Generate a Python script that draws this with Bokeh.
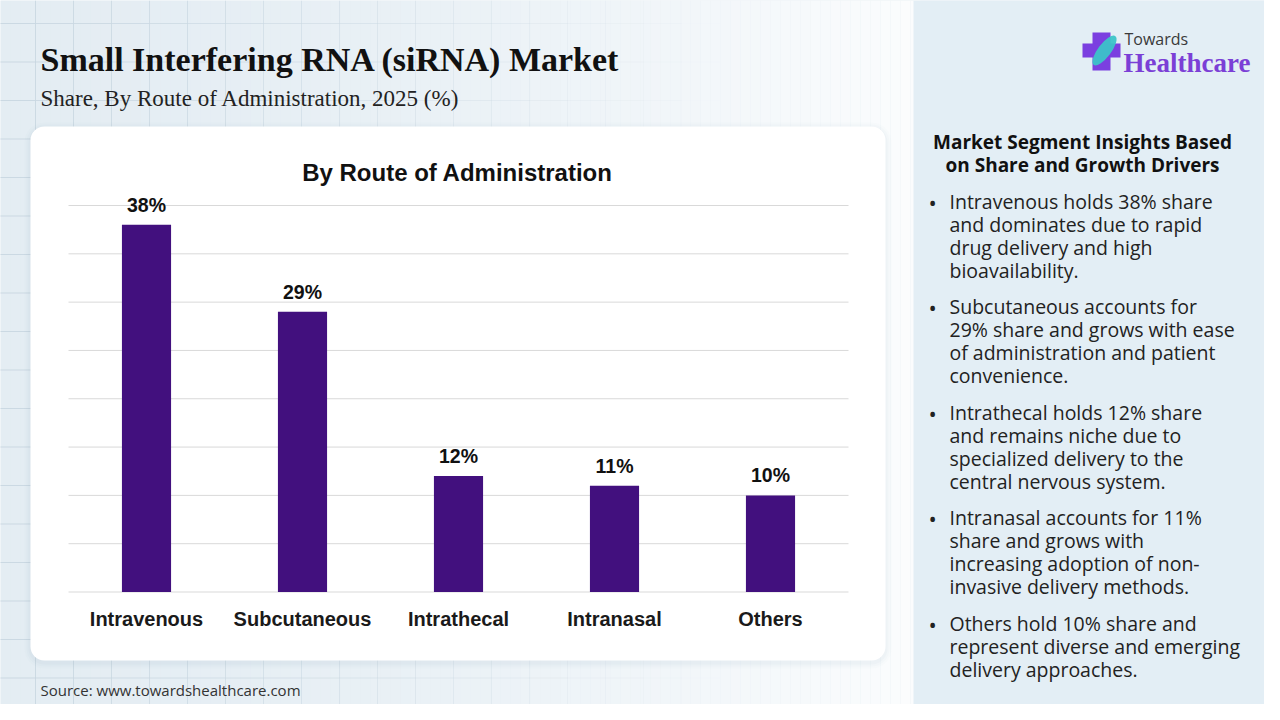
from bokeh.plotting import figure
from bokeh.models import Range1d, BoxAnnotation
from bokeh.core.properties import value
from bokeh.embed import file_html
from bokeh.resources import INLINE

# ---------------- data ----------------
categories = ["Intravenous", "Subcutaneous", "Intrathecal", "Intranasal", "Others"]
shares = [38, 29, 12, 11, 10]
share_labels = ["38%", "29%", "12%", "11%", "10%"]
grid_values = [0, 5, 10, 15, 20, 25, 30, 35, 40]

title = "Small Interfering RNA (siRNA) Market"
subtitle = "Share, By Route of Administration, 2025 (%)"
chart_title = "By Route of Administration"
source = "Source: www.towardshealthcare.com"
panel_heading = ["Market Segment Insights Based", "on Share and Growth Drivers"]
panel_bullets = [
    ["Intravenous holds 38% share", "and dominates due to rapid", "drug delivery and high", "bioavailability."],
    ["Subcutaneous accounts for", "29% share and grows with ease", "of administration and patient", "convenience."],
    ["Intrathecal holds 12% share", "and remains niche due to", "specialized delivery to the", "central nervous system."],
    ["Intranasal accounts for 11%", "share and grows with", "increasing adoption of non-", "invasive delivery methods."],
    ["Others hold 10% share and", "represent diverse and emerging", "delivery approaches."],
]

# ---------------- layout (pixels) ----------------
W, H = 1264, 704
PX0, PY0 = 0, 0
PLOT_L, PLOT_R = 68, 848          # category span
ZERO_Y, TOP_Y = 591.5, 205        # y of value 0 and of value 40
YMAX = 40

p = figure(width=W, height=H, x_range=Range1d(PX0, PX0 + W), y_range=Range1d(PY0 + H, PY0),
           output_backend="svg", toolbar_location=None, min_border=0)
p.axis.visible = False
p.grid.visible = False
p.outline_line_color = None
p.background_fill_color = "#e1ebf2"
p.border_fill_color = "#e1ebf2"

# extra ranges for the bar chart, derived from layout
n = len(categories)
unit_x = (PLOT_R - PLOT_L) / n
xs0 = -0.5 - (PLOT_L - PX0) / unit_x
p.extra_x_ranges = {"cx": Range1d(xs0, xs0 + W / unit_x)}
unit_y = (ZERO_Y - TOP_Y) / YMAX
ys0 = -((PY0 + H) - ZERO_Y) / unit_y
p.extra_y_ranges = {"cy": Range1d(ys0, ys0 + H / unit_y)}

# ---------------- background ----------------
step = 10
lefts, rights, alphas = [], [], []
for i in range(0, 915, step):
    lefts.append(i); rights.append(i + step)
    a = 0.12 + 0.75 * (i / 915) ** 1.8
    alphas.append(min(a, 0.85))
p.quad(left=lefts, right=rights, top=[0] * len(lefts), bottom=[720] * len(lefts),
       fill_color="white", fill_alpha=alphas, line_color=None, level="image")

gx0, gx1, gy0_, gy1_, ga = [], [], [], [], []
for k in range(0, 24):
    x = 35 + 38 * k
    if x > 900:
        break
    a = max(0.0, 0.95 - x / 750)
    gx0.append(x); gx1.append(x); gy0_.append(0); gy1_.append(720); ga.append(a)
for j in range(0, 19):
    y = 23 + 38.5 * j
    for k in range(0, 24):
        xa = 38 * k - 3
        if xa > 900:
            break
        a = max(0.0, 0.95 - (xa + 19) / 750)
        gx0.append(xa); gx1.append(xa + 38); gy0_.append(y); gy1_.append(y); ga.append(a)
p.segment(x0=gx0, y0=gy0_, x1=gx1, y1=gy1_, line_color="#c9d7e1", line_alpha=ga,
          line_width=1, level="image")

p.quad(left=[913], right=[1280], top=[0], bottom=[720], fill_color="#e3eef5",
       line_color=None, level="image")

for off, al in [(6, 0.025), (4, 0.03), (2, 0.04)]:
    p.add_layout(BoxAnnotation(left=30 - off, right=885 + off, top=126 - off + 2, bottom=660 + off + 2,
                               fill_color="#8aa0b0", fill_alpha=al, line_color=None,
                               border_radius=14 + off, level="underlay"))
p.add_layout(BoxAnnotation(left=30, right=885, top=126, bottom=660, fill_color="white",
                           fill_alpha=1.0, line_color=None, border_radius=14, level="underlay"))

# ---------------- titles ----------------
p.text(x=[40], y=[59], text=[title], text_font=value("Liberation Serif"), text_font_style="bold",
       text_font_size="34px", text_color="#111111", text_baseline="middle", text_align="left")
p.text(x=[40], y=[98], text=[subtitle], text_font=value("Liberation Serif"),
       text_font_size="23px", text_color="#222222", text_baseline="middle", text_align="left")
p.text(x=[40], y=[689], text=[source], text_font=value("Open Sans"),
       text_font_size="15px", text_color="#333333", text_baseline="middle", text_align="left")

# logo
p.quad(left=[1092], right=[1110], top=[32], bottom=[70], fill_color="#7b3fe0", line_color=None)
p.quad(left=[1082], right=[1120], top=[43], bottom=[57], fill_color="#7b3fe0", line_color=None)
p.ellipse(x=[1104], y=[50], width=[13], height=[36], angle=[-0.65], fill_color="#3cc3c8",
          line_color=None, fill_alpha=0.95)
p.text(x=[1124], y=[38], text=["Towards"], text_font=value("Open Sans"), text_font_size="16px",
       text_color="#3a3a3a", text_baseline="middle")
p.text(x=[1123], y=[62], text=["Healthcare"], text_font=value("Liberation Serif"),
       text_font_style="bold", text_font_size="27px", text_color="#7b3fd6", text_baseline="middle")

# ---------------- bar chart ----------------
idx = list(range(n))
p.text(x=[457], y=[172], text=[chart_title], text_font=value("Liberation Sans"), text_font_style="bold",
       text_font_size="24px", text_color="#111111", text_align="center", text_baseline="middle")
p.segment(x0=[-0.5] * len(grid_values), x1=[n - 0.5] * len(grid_values), y0=grid_values, y1=grid_values,
          line_color="#d9d9d9", line_width=1, x_range_name="cx", y_range_name="cy")
p.vbar(x=idx, top=shares, width=0.315, bottom=0, fill_color="#42107e", line_color=None,
       x_range_name="cx", y_range_name="cy")
p.text(x=idx, y=shares, text=share_labels, text_font=value("Liberation Sans"), text_font_style="bold",
       text_font_size="19.5px", text_color="#111111", text_align="center", text_baseline="bottom",
       y_offset=-9, x_range_name="cx", y_range_name="cy")
p.text(x=idx, y=[0] * n, text=categories, text_font=value("Liberation Sans"), text_font_style="bold",
       text_font_size="20px", text_color="#1a1a1a", text_align="center", text_baseline="middle",
       y_offset=27, x_range_name="cx", y_range_name="cy")

# ---------------- right panel text ----------------
p.text(x=[1082, 1082], y=[141, 164], text=panel_heading, text_font=value("Open Sans"),
       text_font_style="bold", text_font_size="19px", text_color="#111111",
       text_align="center", text_baseline="middle")
para_y = [201, 306, 412, 517, 623]
bx, by, tx, ty, tt = [], [], [], [], []
for y0, lines in zip(para_y, panel_bullets):
    bx.append(928); by.append(y0)
    for i, line in enumerate(lines):
        tx.append(949); ty.append(y0 + 23 * i); tt.append(line)
p.text(x=bx, y=by, text=["•"] * len(bx), text_font=value("Open Sans"), text_font_size="22px",
       text_color="#222222", text_baseline="middle")
p.text(x=tx, y=ty, text=tt, text_font=value("Open Sans"), text_font_size="19.5px",
       text_color="#222222", text_baseline="middle")

open("out.html", "w").write(file_html(p, INLINE))
